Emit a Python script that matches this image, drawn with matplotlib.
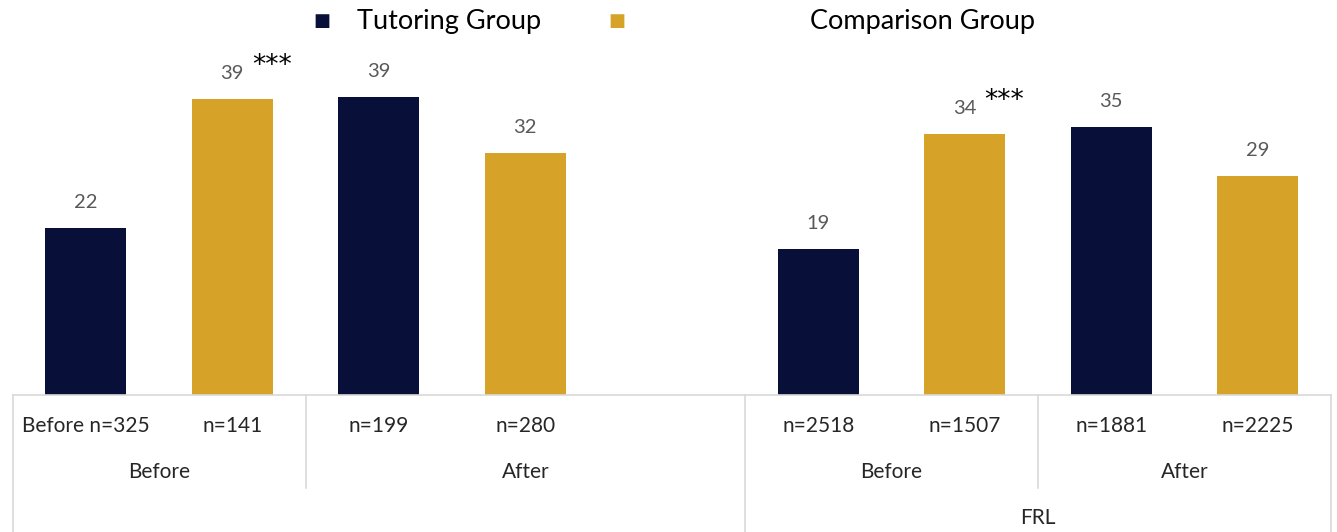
import matplotlib.pyplot as plt

# data
slots = [0, 1, 2, 3, 5, 6, 7, 8]
values = [21.9, 38.8, 39.1, 31.7, 19.2, 34.2, 35.2, 28.7]
series = ["Tutoring Group", "Comparison Group", "Tutoring Group", "Comparison Group",
          "Tutoring Group", "Comparison Group", "Tutoring Group", "Comparison Group"]
n_labels = ["Before n=325", "n=141", "n=199", "n=280", "n=2518", "n=1507", "n=1881", "n=2225"]
stars = ["", "***", "", "", "", "***", "", ""]
periods = ["Before", "After", "Before", "After"]
period_spans = [(0, 1), (2, 4), (5, 6), (7, 8)]
outer = ["", "FRL"]
outer_spans = [(0, 4), (5, 8)]

colors = {"Tutoring Group": "#08103A", "Comparison Group": "#D6A328"}
GRID = "#D9D9D9"

plt.rcParams['font.family'] = ['Lato', 'DejaVu Sans']

fig = plt.figure(figsize=(13.37, 5.32), dpi=100)
ax = fig.add_axes([12.5 / 1337, 137 / 532, (1331 - 12.5) / 1337, 395 / 532])
ax.set_xlim(-0.5, 8.5)
ax.set_ylim(0, 51.8)
ax.axis('off')

for s, v, ser, st in zip(slots, values, series, stars):
    ax.bar(s, v, width=0.55, color=colors[ser])
    ax.text(s, v + 2.2, f"{v:.0f}", ha='center', va='bottom', fontsize=14.5, color='#595959')
    if st:
        ax.text(s + 0.135, v + 4.4, st, ha='left', va='center', fontsize=19,
                color='black', family='DejaVu Sans')

# category axis drawn below the plot area
trans = ax.get_xaxis_transform()
def ypx(p):
    # pixel row of the figure (from top) -> axes y fraction
    return (395 - p) / 395

ax.plot([-0.5, 8.5], [0, 0], transform=trans, color=GRID, lw=1.2, clip_on=False)
for s, lab in zip(slots, n_labels):
    ax.text(s, ypx(426), lab, transform=trans, ha='center', va='center',
            fontsize=15, color='#262626')
for (a, b), lab in zip(period_spans, periods):
    ax.text((a + b) / 2, ypx(472), lab, transform=trans, ha='center', va='center',
            fontsize=15, color='#262626')
for (a, b), lab in zip(outer_spans, outer):
    ax.text((a + b) / 2, ypx(518), lab, transform=trans, ha='center', va='center',
            fontsize=15, color='#262626')

for x in [-0.5, 4.5, 8.5]:
    ax.plot([x, x], [0, ypx(532)], transform=trans, color=GRID, lw=1.2, clip_on=False)
for x in [1.5, 6.5]:
    ax.plot([x, x], [0, ypx(488)], transform=trans, color=GRID, lw=1.2, clip_on=False)

# legend laid out like the original (marker far from its label for the second entry)
legend_pos = {"Tutoring Group": (322, 357), "Comparison Group": (617, 810)}
for name, (mx, tx) in legend_pos.items():
    fig.text(mx / 1337, 1 - 21 / 532, "\u25A0", ha='center', va='center',
             fontsize=13, color=colors[name])
    fig.text(tx / 1337, 1 - 22 / 532, name, ha='left', va='center',
             fontsize=19.5, color='black')

fig.savefig("out.png", dpi=100)
